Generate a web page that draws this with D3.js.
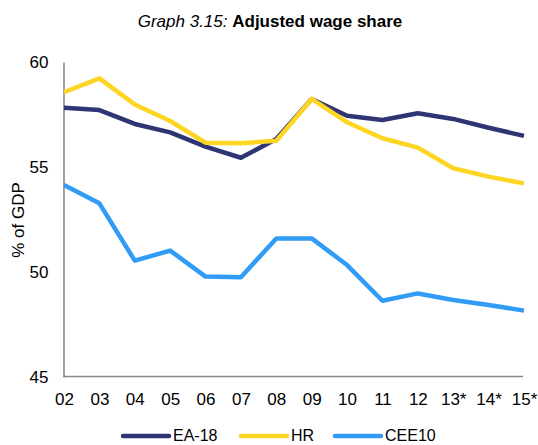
<!DOCTYPE html>
<html>
<head>
<meta charset="utf-8">
<script src="https://cdn.jsdelivr.net/npm/d3@7"></script>
<style>
  body { margin: 0; background: #fff; }
  text { font-family: "Liberation Sans", Arial, sans-serif; fill: #000; }
</style>
</head>
<body>
<div id="graph"></div>
<script>
// data
const years = ["02", "03", "04", "05", "06", "07", "08", "09", "10", "11", "12", "13*", "14*", "15*"];
const ea18 = [57.82, 57.71, 57.05, 56.65, 55.97, 55.44, 56.33, 58.24, 57.44, 57.24, 57.56, 57.29, 56.87, 56.48];
const hr = [58.56, 59.22, 57.98, 57.19, 56.16, 56.13, 56.25, 58.24, 57.13, 56.37, 55.92, 54.94, 54.54, 54.22];
const cee10 = [54.14, 53.27, 50.54, 51.02, 49.78, 49.75, 51.6, 51.6, 50.33, 48.63, 48.98, 48.67, 48.43, 48.16];
const yTicks = [45, 50, 55, 60];

const seriesNames = ["EA-18", "HR", "CEE10"];
const seriesData = [ea18, hr, cee10];
const colors = ["#2f3573", "#fed523", "#319cf6"];

const W = 538, H = 445;
const svg = d3.select("#graph").append("svg").attr("width", W).attr("height", H);

// title
const title = svg.append("text")
  .attr("x", 270).attr("y", 27)
  .attr("text-anchor", "middle")
  .style("font-size", "17px");
title.append("tspan").style("font-style", "italic").text("Graph 3.15: ");
title.append("tspan").style("font-weight", "bold").text("Adjusted wage share");

const x = d3.scalePoint().domain(years).range([64, 524]);
const y = d3.scaleLinear().domain([45, 60]).range([377, 62]);

// axes
const yAxis = svg.append("g")
  .attr("transform", "translate(63.5,0)")
  .call(d3.axisLeft(y).tickValues(yTicks).tickSize(0).tickSizeOuter(0).tickPadding(15));
const xAxis = svg.append("g")
  .attr("transform", "translate(0,376.5)")
  .call(d3.axisBottom(x).tickSize(0).tickSizeOuter(0).tickPadding(16));

[yAxis, xAxis].forEach(function (g) {
  g.select(".domain").attr("stroke", "#898989").attr("stroke-width", 1.6);
  g.selectAll("text").style("font-size", "17px").attr("fill", "#000")
    .style("font-family", "'Liberation Sans', Arial, sans-serif");
});
xAxis.select(".domain").attr("d", "M63.5,0H523");

// y label
svg.append("text")
  .attr("transform", "translate(24,220) rotate(-90)")
  .attr("text-anchor", "middle")
  .style("font-size", "17px")
  .text("% of GDP");

// lines
const line = d3.line()
  .x(function (d, i) { return x(years[i]); })
  .y(function (d) { return y(d); });

svg.append("g")
  .selectAll("path")
  .data(seriesData)
  .enter()
  .append("path")
  .attr("d", line)
  .attr("fill", "none")
  .attr("stroke", function (d, i) { return colors[i]; })
  .attr("stroke-width", 4.5)
  .attr("stroke-linejoin", "round");

// legend
const legendX = [123, 241, 335];
const legend = svg.append("g")
  .selectAll("g")
  .data(seriesNames)
  .enter()
  .append("g")
  .attr("transform", function (d, i) { return "translate(" + legendX[i] + ",436)"; });
legend.append("line")
  .attr("x1", 0).attr("x2", 46)
  .attr("stroke", function (d, i) { return colors[i]; })
  .attr("stroke-width", 4.5)
  .attr("stroke-linecap", "round");
legend.append("text")
  .attr("x", 50).attr("y", 5)
  .style("font-size", "16px")
  .text(function (d) { return d; });
</script>
</body>
</html>
